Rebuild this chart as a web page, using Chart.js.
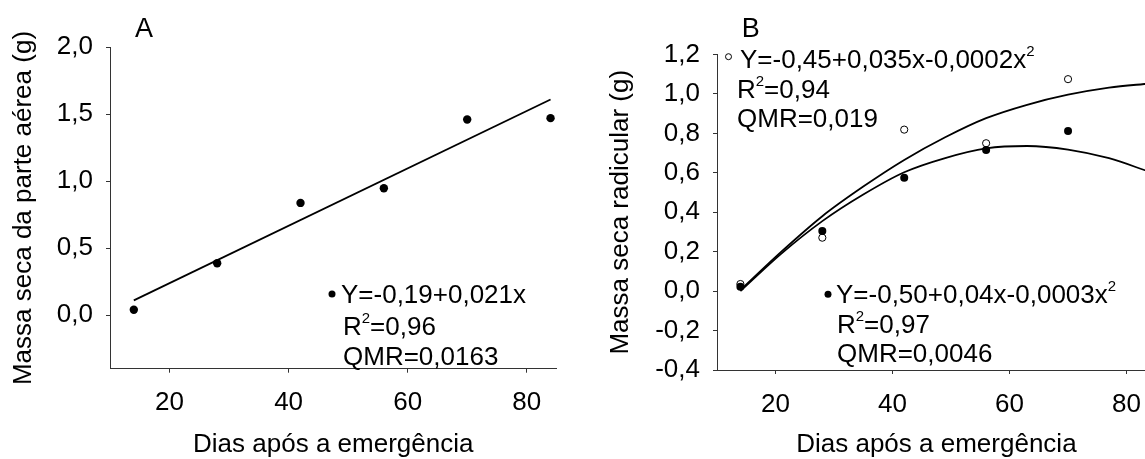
<!DOCTYPE html>
<html><head><meta charset="utf-8">
<script src="https://cdn.jsdelivr.net/npm/chart.js@4.4.1/dist/chart.umd.min.js"></script>
<style>
html,body{margin:0;padding:0;background:#fff;overflow:hidden;width:1145px;height:459px;position:relative;}
#ca{position:absolute;left:0;top:0;}
#cb{position:absolute;left:575px;top:0;}
</style></head><body>
<canvas id="ca" width="570" height="459"></canvas>
<canvas id="cb" width="600" height="459"></canvas>
<script>
// ---------- data ----------
const xTicks = [20, 40, 60, 80];
const xTickLabels = ['20', '40', '60', '80'];

// Panel A: shoot dry mass
const daysA = [14, 28, 42, 56, 70, 84];
const shootMass = [0.04, 0.387, 0.838, 0.948, 1.461, 1.471];
const fitDaysA = [14, 84];
const fitShoot = [0.11, 1.61];
const yTicksA = [0, 0.5, 1.0, 1.5, 2.0];
const yTickLabelsA = ['0,0', '0,5', '1,0', '1,5', '2,0'];

// Panel B: root dry mass
const daysB = [14, 28, 42, 56, 70];
const rootOpen = [0.036, 0.271, 0.819, 0.75, 1.075];
const rootFilled = [0.022, 0.305, 0.575, 0.716, 0.812];
const fitDaysB = [14, 21, 28, 35, 42, 49, 56, 63, 70, 77, 84];
const fitRootOpen = [0.005, 0.2, 0.38, 0.53, 0.665, 0.78, 0.877, 0.945, 0.996, 1.032, 1.053];
const fitRootFilled = [0.0, 0.19, 0.355, 0.49, 0.603, 0.675, 0.724, 0.736, 0.718, 0.674, 0.604];
const yTicksB = [-0.4, -0.2, 0, 0.2, 0.4, 0.6, 0.8, 1.0, 1.2];
const yTickLabelsB = ['-0,4', '-0,2', '0,0', '0,2', '0,4', '0,6', '0,8', '1,0', '1,2'];

// ---------- style ----------
const FF = '"Liberation Sans", Arial, Helvetica, sans-serif';
const AX = '#333';
const MAIN = '26px ' + FF;
const SUP = '15px ' + FF;

function pts(xs, ys) { return xs.map((x, i) => ({x: x, y: ys[i]})); }

function xScale(min, max, h) {
  return {
    type: 'linear', min: min, max: max, offset: false,
    afterBuildTicks: s => { s.ticks = xTicks.map(v => ({value: v})); },
    afterFit: s => { s.height = h; },
    ticks: {callback: v => xTickLabels[xTicks.indexOf(v)], font: {family: FF, size: 26}, color: '#000',
            padding: 15, autoSkip: false, maxRotation: 0, minRotation: 0},
    grid: {drawOnChartArea: false, drawTicks: true, tickLength: 4, color: AX, lineWidth: 1},
    border: {display: true, color: AX, width: 1},
    title: {display: true, text: 'Dias após a emergência', color: '#000',
            font: {family: FF, size: 26, lineHeight: 1.08}, padding: {top: 0, bottom: 0}}
  };
}
function yScale(min, max, ticks, labels, w, title, tpad) {
  return {
    type: 'linear', min: min, max: max,
    afterBuildTicks: s => { s.ticks = ticks.map(v => ({value: v})); },
    afterFit: s => { s.width = w; },
    ticks: {callback: v => { const i = ticks.findIndex(t => Math.abs(t - v) < 1e-9); return labels[i]; },
            font: {family: FF, size: 26}, color: '#000', padding: 13, autoSkip: false},
    grid: {drawOnChartArea: false, drawTicks: true, tickLength: 4, color: AX, lineWidth: 1},
    border: {display: true, color: AX, width: 1},
    title: {display: true, text: title, color: '#000',
            font: {family: FF, size: 26, lineHeight: 1.2}, padding: {top: tpad, bottom: 0}}
  };
}

function drawRich(ctx, x, y, parts, font) {
  let cx = x;
  for (const p of parts) {
    const sup = p[1];
    ctx.font = sup ? SUP : (font || MAIN);
    ctx.fillText(p[0], cx, sup ? y - 12 : y);
    cx += ctx.measureText(p[0]).width;
  }
}

function notesPlugin(items) {
  return {
    id: 'notes',
    afterDatasetsDraw(chart) {
      const ctx = chart.ctx;
      ctx.save();
      ctx.fillStyle = '#000';
      ctx.textBaseline = 'alphabetic';
      ctx.textAlign = 'left';
      for (const it of items) {
        if (it.dot) {
          ctx.beginPath();
          ctx.arc(it.dot[0], it.dot[1], it.dot[2], 0, Math.PI * 2);
          if (it.open) { ctx.fillStyle = '#fff'; ctx.fill(); ctx.lineWidth = 1; ctx.strokeStyle = '#000'; ctx.stroke(); ctx.fillStyle = '#000'; }
          else { ctx.fill(); }
        } else {
          drawRich(ctx, it.x, it.y, it.parts, it.font);
        }
      }
      ctx.restore();
    }
  };
}

Chart.defaults.font.family = FF;

// ---------- Panel A ----------
new Chart(document.getElementById('ca'), {
  type: 'scatter',
  data: {datasets: [
    {data: pts(daysA, shootMass), pointRadius: 4.2, pointBackgroundColor: '#000', pointBorderColor: '#000', pointBorderWidth: 0, showLine: false},
    {data: pts(fitDaysA, fitShoot), showLine: true, pointRadius: 0, borderColor: '#000', borderWidth: 1.8, fill: false}
  ]},
  options: {
    responsive: false, animation: false, devicePixelRatio: 1,
    layout: {padding: {top: 47.3, right: 13.5, bottom: 0, left: 0}},
    plugins: {legend: {display: false}, tooltip: {enabled: false}},
    scales: {
      x: xScale(10, 85, 90.3),
      y: yScale(-0.4, 2.0, yTicksA, yTickLabelsA, 110, 'Massa seca da parte aérea (g)', 8)
    }
  },
  plugins: [notesPlugin([
    {x: 135, y: 37, parts: [['A']], font: '27px ' + FF},
    {dot: [332, 294, 3.5]},
    {x: 341, y: 303.3, parts: [['Y=-0,19+0,021x']]},
    {x: 343, y: 335, parts: [['R'], ['2', true], ['=0,96']]},
    {x: 343, y: 365, parts: [['QMR=0,0163']]}
  ])]
});

// ---------- Panel B ----------
new Chart(document.getElementById('cb'), {
  type: 'scatter',
  data: {datasets: [
    {data: pts(daysB, rootFilled), pointRadius: 4, pointBackgroundColor: '#000', pointBorderColor: '#000', pointBorderWidth: 0, showLine: false},
    {data: pts(daysB, rootOpen), pointRadius: 3.6, pointBackgroundColor: '#fff', pointBorderColor: '#000', pointBorderWidth: 1, showLine: false},
    {data: pts(fitDaysB, fitRootOpen), showLine: true, pointRadius: 0, borderColor: '#000', borderWidth: 1.8, fill: false, cubicInterpolationMode: 'monotone'},
    {data: pts(fitDaysB, fitRootFilled), showLine: true, pointRadius: 0, borderColor: '#000', borderWidth: 1.8, fill: false, cubicInterpolationMode: 'monotone'}
  ]},
  options: {
    responsive: false, animation: false, devicePixelRatio: 1,
    layout: {padding: {top: 54.5, right: 19.2, bottom: 0, left: 0}},
    plugins: {legend: {display: false}, tooltip: {enabled: false}},
    scales: {
      x: xScale(10, 85, 89),
      y: yScale(-0.4, 1.2, yTicksB, yTickLabelsB, 142, 'Massa seca radicular (g)', 30)
    }
  },
  plugins: [notesPlugin([
    {x: 741.7 - 575, y: 36.7, parts: [['B']], font: '27px ' + FF},
    {dot: [728.5 - 575, 56.7, 3], open: true},
    {x: 740 - 575, y: 68.3, parts: [['Y=-0,45+0,035x-0,0002x'], ['2', true]]},
    {x: 737 - 575, y: 98.3, parts: [['R'], ['2', true], ['=0,94']]},
    {x: 737 - 575, y: 126.7, parts: [['QMR=0,019']]},
    {dot: [828 - 575, 294.3, 3.5]},
    {x: 836 - 575, y: 303.3, parts: [['Y=-0,50+0,04x-0,0003x'], ['2', true]]},
    {x: 837 - 575, y: 333.3, parts: [['R'], ['2', true], ['=0,97']]},
    {x: 837 - 575, y: 361.7, parts: [['QMR=0,0046']]}
  ])]
});
</script>
</body></html>
